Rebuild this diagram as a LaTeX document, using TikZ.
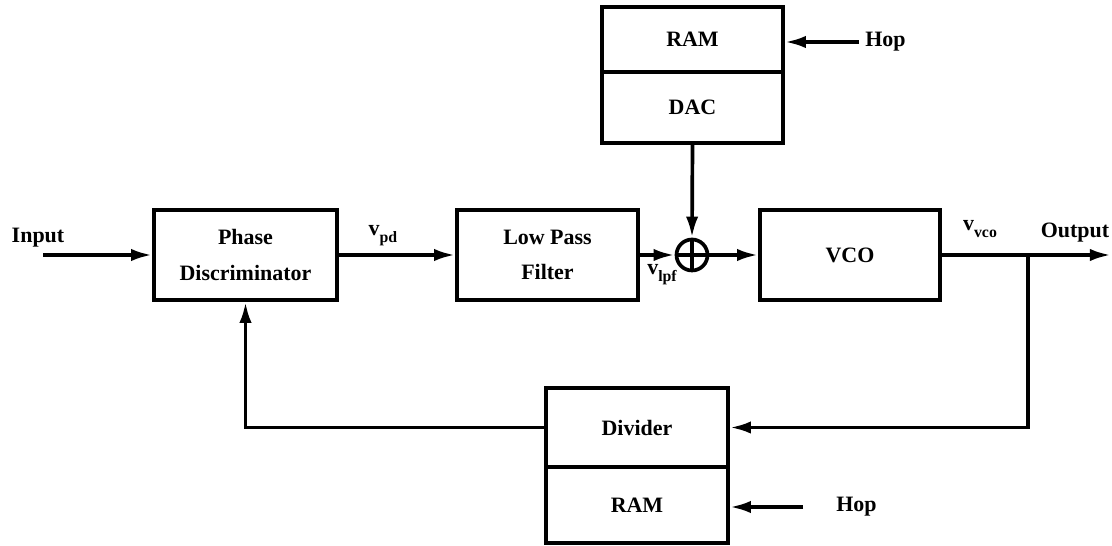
\documentclass[tikz,border=0pt]{standalone}
\usepackage{fontspec}
\setmainfont{Liberation Serif}
\usetikzlibrary{arrows.meta}
\newcommand{\vsub}[1]{v\raisebox{-0.7ex}{\fontsize{9}{9}\selectfont #1}}
\begin{document}
\begin{tikzpicture}[x=0.02cm,y=-0.02cm,
  blk/.style={draw,line width=2.1pt,font=\bfseries\fontsize{12.5}{20}\selectfont,align=center,inner sep=0pt},
  conn/.style={line width=2.1pt},
  arr/.style={conn,-{Latex[length=12pt,width=7pt]}},
  lbl/.style={font=\bfseries\fontsize{12.5}{14}\selectfont,inner sep=0pt}]
\useasboundingbox (0,0) rectangle (1112,546);
% blocks
\node[blk,minimum width=3.66cm,minimum height=1.8cm] (pd) at (245.5,255) {Phase\\Discriminator};
\node[blk,minimum width=3.62cm,minimum height=1.8cm] (lpf) at (547.5,255) {Low Pass\\Filter};
\node[blk,minimum width=3.6cm,minimum height=1.8cm] (vco) at (850,255) {VCO};
\node[blk,minimum width=3.62cm,minimum height=1.3cm] (ramt) at (692.5,39.5) {RAM};
\node[blk,minimum width=3.62cm,minimum height=1.42cm] (dac) at (692.5,107.5) {DAC};
\node[blk,minimum width=3.64cm,minimum height=1.58cm] (div) at (637,427.5) {Divider};
\node[blk,minimum width=3.64cm,minimum height=1.52cm] (ramb) at (637,505) {RAM};
% summing junction
\node[circle,draw,line width=2.1pt,minimum size=0.62cm,inner sep=0pt] (sum) at (692,255) {};
\draw[conn] (sum.north) -- (sum.south);
\draw[conn] (sum.west) -- (sum.east);
% labels
\node[lbl] (inlbl) at (38,238) {Input};
\node[lbl] (outlbl) at (1075,233) {Output};
\node[lbl] (vpd) at (383,236) {\vsub{pd}};
\node[lbl] (vlpf) at (662,275) {\vsub{lpf}};
\node[lbl] (vvco) at (980,229) {\vsub{vco}};
\node[lbl,anchor=west] (hopt) at (865,42) {Hop};
\node[lbl,anchor=west] (hopb) at (836,507) {Hop};
% coordinates
\coordinate (in) at (43,255);
\coordinate (outend) at (1111,255);
\coordinate (br) at (1028,255);
\coordinate (ht) at (859,42);
\coordinate (hb) at (803,507);
% connectors
\draw[arr] (in) -- (pd.west);
\draw[arr] (pd.east) -- (lpf.west);
\draw[arr] (lpf.east) -- (sum.west);
\draw[arr] (sum.east) -- (vco.west);
\draw[arr] (dac.south) -- (sum.north);
\draw[arr] (vco.east) -- (outend);
\draw[arr] (br) |- (div.east);
\draw[arr] (div.west) -| (pd.south);
\draw[arr] (ht) -- (ht -| ramt.east);
\draw[arr] (hb) -- (hb -| ramb.east);
\end{tikzpicture}
\end{document}
